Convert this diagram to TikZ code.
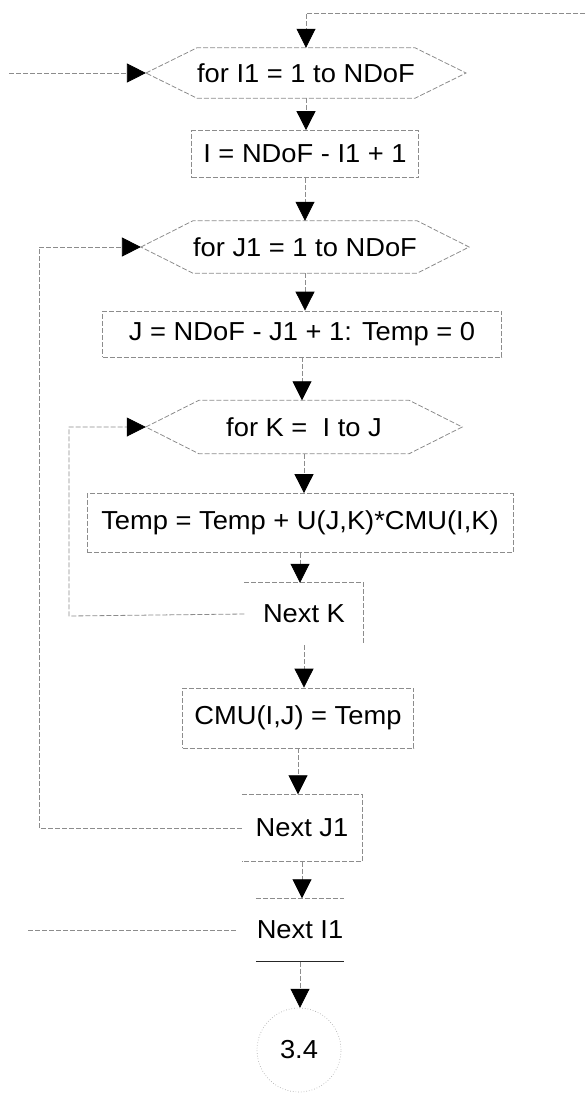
\documentclass[tikz,border=0pt]{standalone}
\usepackage{fontspec}
\setmainfont{Liberation Sans}[FakeStretch=1.05]
\usetikzlibrary{arrows.meta}
\begin{document}
\begin{tikzpicture}[x=1pt,y=-1pt,
  faint/.style={draw=black!45, line width=0.8pt, dash pattern=on 5pt off 2pt},
  lbl/.style={font=\fontsize{26}{30}\selectfont, inner sep=0pt, rectangle},
  boxn/.style={lbl, faint},
  link/.style={faint, -{Triangle[width=19pt,length=19pt,black]}},
  plain/.style={faint},
  dark/.style={draw=black!85, line width=1.3pt}
]
\useasboundingbox (0,0) rectangle (585,1101);

% nodes
\node[lbl, minimum width=210pt, minimum height=50pt] (fI1) at (306,73) {for I1 = 1 to NDoF};
\node[boxn, minimum width=227pt, minimum height=47pt] (bI) at (305,154) {I = NDoF - I1 + 1};
\node[lbl, minimum width=206pt, minimum height=52pt] (fJ1) at (305,247) {for J1 = 1 to NDoF};
\node[boxn, minimum width=399pt, minimum height=46pt] (bJ) at (302,334) {J = NDoF - J1 + 1: Temp = 0};
\node[lbl, minimum width=210pt, minimum height=53pt] (fK) at (304,427) {for K = \ I to J};
\node[boxn, minimum width=426pt, minimum height=59pt] (bT) at (300,523) {Temp = Temp + U(J,K)*CMU(I,K)};
\node[lbl, minimum width=119pt, minimum height=62pt] (nK) at (304,614) {Next K};
\node[boxn, minimum width=231pt, minimum height=60pt] (bC) at (298,718) {CMU(I,J) = Temp};
\node[lbl, minimum width=120pt, minimum height=67pt] (nJ1) at (302,828) {Next J1};
\node[lbl, minimum width=88pt, minimum height=63pt] (nI1) at (300,930) {Next I1};
\node[lbl, circle, minimum size=84pt] (c34) at (299,1050) {3.4};

% hexagon tips
\coordinate (fI1w) at ([xshift=-51pt]fI1.west);
\coordinate (fI1e) at ([xshift=51pt]fI1.east);
\coordinate (fJ1w) at ([xshift=-52pt]fJ1.west);
\coordinate (fJ1e) at ([xshift=52pt]fJ1.east);
\coordinate (fKw) at ([xshift=-53pt]fK.west);
\coordinate (fKe) at ([xshift=53pt]fK.east);
\coordinate (nI1w) at ([xshift=-20pt]nI1.west);

% hexagon outlines
\draw[faint] (fI1w) -- (fI1.north west) -- (fI1.north east) -- (fI1e) -- (fI1.south east) -- (fI1.south west) -- cycle;
\draw[faint] (fJ1w) -- (fJ1.north west) -- (fJ1.north east) -- (fJ1e) -- (fJ1.south east) -- (fJ1.south west) -- cycle;
\draw[faint] (fKw) -- (fK.north west) -- (fK.north east) -- (fKe) -- (fK.south east) -- (fK.south west) -- cycle;

% loop limit outlines
\draw[faint] (nK.north west) -- (nK.north east) -- (nK.south east);
\draw[faint] (nJ1.north west) -- (nJ1.north east) -- (nJ1.south east) -- (nJ1.south west);
\draw[faint] (nI1.north west) -- (nI1.north east);
\draw[dark] (nI1.south west) -- (nI1.south east);
\draw[draw=black!30, line width=0.7pt, dotted] (c34) circle (42pt);

% main flow
\coordinate (tr) at (585,13);
\draw[link] (tr) -| (fI1.north);
\draw[link] (fI1.south) -- (fI1.south |- bI.north);
\draw[link] (bI.south) -- (bI.south |- fJ1.north);
\draw[link] (fJ1.south) -- (fJ1.south |- bJ.north);
\draw[link] (bJ.south) -- (bJ.south |- fK.north);
\draw[link] (fK.south) -- (fK.south |- bT.north);
\draw[link] (bT.south) -- (bT.south |- nK.north);
\draw[link] (nK.south) -- (nK.south |- bC.north);
\draw[link] (bC.south) -- (bC.south |- nJ1.north);
\draw[link] (nJ1.south) -- (nJ1.south |- nI1.north);
\draw[link] (nI1.south) -- (nI1.south |- c34.north);

% loops
\coordinate (kl) at (69,616);
\draw[link] (nK.west) -- (kl) |- (fKw);
\coordinate (jl) at (39,828);
\draw[link] (nJ1.west) -- (jl) |- (fJ1w);
\coordinate (il) at (9,73);
\draw[link] (il) -- (fI1w);
\coordinate (ni) at (26,930);
\draw[plain] (nI1w) -- (ni);
\end{tikzpicture}
\end{document}
